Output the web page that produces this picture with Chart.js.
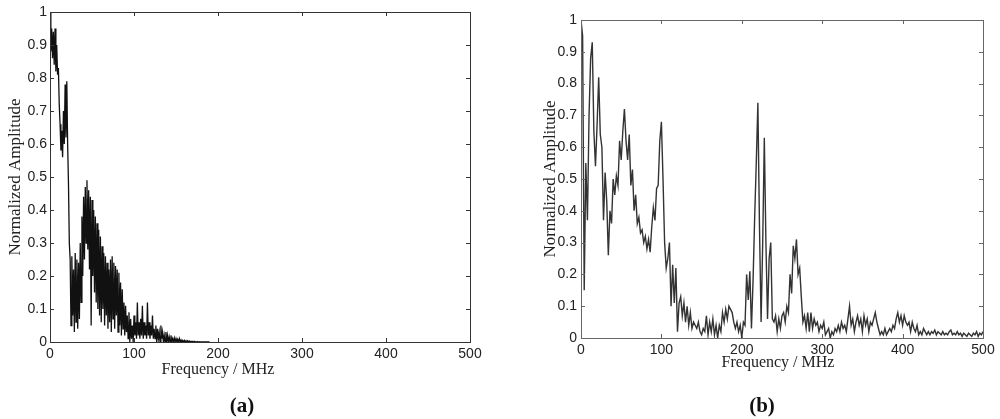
<!DOCTYPE html>
<html>
<head>
<meta charset="utf-8">
<script src="https://cdn.jsdelivr.net/npm/chart.js@4.4.0/dist/chart.umd.min.js"></script>
<style>
  html, body { margin: 0; padding: 0; background: #fff; }
  body { width: 1000px; height: 419px; position: relative; overflow: hidden; }
  canvas { position: absolute; top: 0; }
  #chartA { left: 0; }
  #chartB { left: 530px; }
  .xt { position: absolute; width: 116px; text-align: center; line-height: 20px; white-space: nowrap;
        font: 16px "Liberation Serif", "Times New Roman", serif; color: #222; }
  .tag { position: absolute; top: 393px; width: 84px; text-align: center; line-height: 24px;
         font: bold 21px "Liberation Serif", "Times New Roman", serif; color: #111; }
</style>
</head>
<body>
<canvas id="chartA" width="490" height="390"></canvas>
<canvas id="chartB" width="470" height="390"></canvas>
<div class="xt" id="xTitleA" style="left:160px; top:360px"></div>
<div class="xt" id="xTitleB" style="left:720px; top:353px"></div>
<div class="tag" style="left:200px">(a)</div>
<div class="tag" style="left:720px">(b)</div>
<script>
        // espectro (a): un punto por MHz, de 0 a 190 MHz
        const stepA = 1;
        const ampA = [
            1.00, 0.88, 0.95, 0.86, 0.94, 0.84, 0.95, 0.82, 0.90, 0.81,
            0.83, 0.72, 0.66, 0.58, 0.64, 0.56, 0.70, 0.60, 0.78, 0.62,
            0.79, 0.60, 0.48, 0.30, 0.25, 0.05, 0.26, 0.08, 0.22, 0.03,
            0.27, 0.06, 0.25, 0.04, 0.24, 0.07, 0.30, 0.12, 0.38, 0.20,
            0.44, 0.25, 0.47, 0.30, 0.49, 0.28, 0.46, 0.22, 0.44, 0.05,
            0.43, 0.20, 0.40, 0.15, 0.38, 0.12, 0.36, 0.10, 0.34, 0.08,
            0.32, 0.06, 0.29, 0.10, 0.27, 0.05, 0.26, 0.08, 0.24, 0.04,
            0.22, 0.06, 0.25, 0.03, 0.26, 0.07, 0.24, 0.04, 0.23, 0.08,
            0.22, 0.03, 0.21, 0.05, 0.18, 0.02, 0.16, 0.04, 0.12, 0.02,
            0.11, 0.03, 0.08, 0.01, 0.09, 0.00, 0.07, 0.01, 0.05, 0.00,
            0.08, 0.02, 0.06, 0.01, 0.12, 0.02, 0.06, 0.01, 0.07, 0.02,
            0.11, 0.01, 0.06, 0.02, 0.05, 0.01, 0.12, 0.02, 0.06, 0.01,
            0.05, 0.02, 0.08, 0.01, 0.04, 0.01, 0.05, 0.00, 0.04, 0.01,
            0.03, 0.00, 0.05, 0.01, 0.03, 0.00, 0.02, 0.00, 0.03, 0.00,
            0.02, 0.00, 0.015, 0.00, 0.02, 0.00, 0.01, 0.00, 0.012, 0.00,
            0.01, 0.00, 0.008, 0.00, 0.01, 0.00, 0.006, 0.00, 0.005, 0.00,
            0.005, 0.00, 0.004, 0.00, 0.004, 0.00, 0.003, 0.00, 0.002, 0.00,
            0.002, 0.00, 0.002, 0.00, 0.001, 0.00, 0.001, 0.00, 0.001, 0.00,
            0, 0, 0, 0, 0, 0, 0, 0, 0, 0, 0
        ];

        // espectro (b): un punto cada 2 MHz, de 0 a 500 MHz
        const stepB = 2;
        const ampB = [
            1.00, 0.95, 0.15, 0.55, 0.37, 0.70, 0.88, 0.93, 0.65, 0.54,
            0.67, 0.82, 0.64, 0.60, 0.37, 0.52, 0.43, 0.26, 0.40, 0.36,
            0.50, 0.45, 0.51, 0.48, 0.62, 0.56, 0.65, 0.72, 0.62, 0.56,
            0.64, 0.48, 0.53, 0.40, 0.45, 0.36, 0.38, 0.33, 0.34, 0.30,
            0.32, 0.28, 0.31, 0.27, 0.35, 0.41, 0.37, 0.47, 0.48, 0.62,
            0.68, 0.50, 0.30, 0.22, 0.25, 0.30, 0.10, 0.23, 0.11, 0.22,
            0.02, 0.11, 0.13, 0.07, 0.11, 0.05, 0.10, 0.04, 0.08, 0.03,
            0.05, 0.04, 0.03, 0.05, 0.02, 0.01, 0.03, 0.02, 0.07, 0.01,
            0.05, 0.02, 0.06, 0.01, 0.04, 0.00, 0.04, 0.02, 0.08, 0.05,
            0.09, 0.06, 0.10, 0.09, 0.08, 0.05, 0.03, 0.05, 0.02, 0.04,
            0.00, 0.05, 0.04, 0.20, 0.12, 0.21, 0.03, 0.18, 0.38, 0.55,
            0.74, 0.35, 0.05, 0.30, 0.63, 0.30, 0.06, 0.25, 0.30, 0.06,
            0.05, 0.07, 0.02, 0.06, 0.03, 0.07, 0.08, 0.05, 0.10, 0.08,
            0.20, 0.14, 0.29, 0.25, 0.31, 0.20, 0.22, 0.13, 0.05, 0.07,
            0.03, 0.08, 0.02, 0.08, 0.03, 0.06, 0.04, 0.05, 0.02, 0.04,
            0.03, 0.05, 0.01, 0.02, 0.03, 0.00, 0.02, 0.01, 0.03, 0.02,
            0.04, 0.02, 0.05, 0.03, 0.04, 0.02, 0.06, 0.10, 0.04, 0.06,
            0.02, 0.05, 0.07, 0.04, 0.06, 0.02, 0.07, 0.04, 0.06, 0.02,
            0.05, 0.04, 0.06, 0.08, 0.05, 0.03, 0.01, 0.02, 0.01, 0.03,
            0.01, 0.02, 0.03, 0.02, 0.04, 0.03, 0.06, 0.08, 0.05, 0.07,
            0.04, 0.07, 0.05, 0.04, 0.05, 0.02, 0.05, 0.03, 0.02, 0.04,
            0.01, 0.02, 0.01, 0.03, 0.02, 0.01, 0.02, 0.01, 0.02, 0.015,
            0.025, 0.01, 0.02, 0.015, 0.01, 0.02, 0.01, 0.015, 0.01, 0.02,
            0.025, 0.01, 0.015, 0.01, 0.02, 0.01, 0.015, 0.005, 0.015, 0.01,
            0.005, 0.015, 0.01, 0.005, 0.015, 0.01, 0.02, 0.005, 0.015, 0.01,
            0.02
        ];

        const xTitle = 'Frequency / MHz';
        const yTitle = 'Normalized Amplitude';
        document.getElementById('xTitleA').textContent = xTitle;
        document.getElementById('xTitleB').textContent = xTitle;

        // marco y marcas hacia dentro, estilo MATLAB
        const frameTicks = {
            id: 'frameTicks',
            afterDatasetsDraw(chart, args, opts) {
                const { ctx, chartArea: a, scales: { x, y } } = chart;
                const len = 4;
                ctx.save();
                ctx.strokeStyle = opts.color;
                ctx.lineWidth = 1;
                ctx.strokeRect(a.left + 0.5, a.top + 0.5, a.right - a.left, a.bottom - a.top);
                ctx.beginPath();
                x.ticks.forEach(t => {
                    const px = Math.round(x.getPixelForValue(t.value)) + 0.5;
                    ctx.moveTo(px, a.bottom); ctx.lineTo(px, a.bottom - len);
                    ctx.moveTo(px, a.top); ctx.lineTo(px, a.top + len);
                });
                y.ticks.forEach(t => {
                    const py = Math.round(y.getPixelForValue(t.value)) + 0.5;
                    ctx.moveTo(a.left, py); ctx.lineTo(a.left + len, py);
                    ctx.moveTo(a.right, py); ctx.lineTo(a.right - len, py);
                });
                ctx.stroke();
                ctx.restore();
            }
        };

        const tickFont = { family: '"Liberation Sans", Arial, sans-serif', size: 14 };

        function makeConfig(amps, step, s) {
            return {
                type: 'line',
                data: {
                    datasets: [{
                        data: amps.map((v, i) => ({ x: i * step, y: v })),
                        borderColor: s.line,
                        borderWidth: s.lineWidth,
                        pointRadius: 0,
                        tension: 0,
                        fill: false
                    }]
                },
                options: {
                    responsive: false,
                    animation: false,
                    layout: { padding: { top: s.top, right: s.right, left: 0, bottom: 0 } },
                    plugins: {
                        legend: { display: false },
                        tooltip: { enabled: false },
                        frameTicks: { color: s.frame }
                    },
                    scales: {
                        x: {
                            type: 'linear',
                            min: 0, max: 500,
                            grid: { display: false, drawTicks: false },
                            border: { display: false },
                            ticks: { stepSize: 100, padding: s.xPad, color: '#222', font: tickFont },
                            afterFit(scale) { scale.height = s.xHeight; }
                        },
                        y: {
                            min: 0, max: 1,
                            grid: { display: false, drawTicks: false },
                            border: { display: false },
                            ticks: { stepSize: 0.1, padding: s.yPad, color: '#222', font: tickFont,
                                     callback: v => String(Number(v.toFixed(1))) },
                            title: { display: true, text: yTitle, color: '#222',
                                     padding: { top: s.yTitlePad, bottom: 0 },
                                     font: { family: '"Liberation Serif", "Times New Roman", serif', size: 17 } },
                            afterFit(scale) { scale.width = s.yWidth; }
                        }
                    }
                },
                plugins: [frameTicks]
            };
        }

        const chartA = new Chart(document.getElementById('chartA'), makeConfig(ampA, stepA, {
            line: '#111', lineWidth: 1.3, frame: '#333',
            top: 12, right: 20, xHeight: 48, yWidth: 50,
            xPad: 4, yPad: 3, yTitlePad: 5
        }));

        const chartB = new Chart(document.getElementById('chartB'), makeConfig(ampB, stepB, {
            line: '#333', lineWidth: 1.4, frame: '#666',
            top: 20, right: 17, xHeight: 52, yWidth: 51,
            xPad: 4, yPad: 4, yTitlePad: 10
        }));
</script>
</body>
</html>
